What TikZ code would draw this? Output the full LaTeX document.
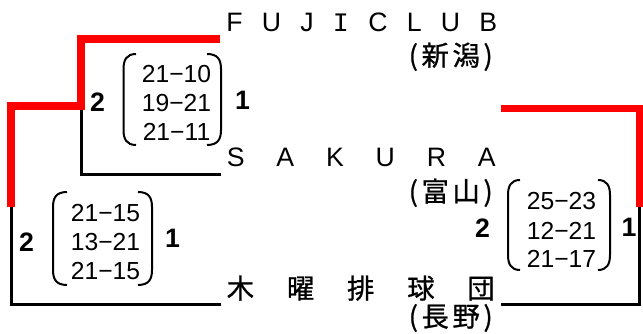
\documentclass[tikz,border=0pt]{standalone}
\usepackage{fontspec}
\setmainfont{Liberation Sans}
\newfontfamily\jp[FakeBold=0.9]{Noto Sans CJK JP}
\newfontfamily\monoI{Liberation Mono}
\definecolor{bracketred}{RGB}{255,0,0}
\begin{document}
\begin{tikzpicture}[x=0.75pt,y=-0.75pt,
  redline/.style={draw=bracketred,line width=5.6pt},
  blackline/.style={draw=black,line width=2.25pt},
  paren/.style={draw=black,line width=1.5pt},
  team/.style={inner sep=0pt,font=\fontsize{20}{22}\selectfont},
  kanji/.style={inner sep=0pt,font=\jp\fontsize{20.5}{22}\selectfont},
  score/.style={inner sep=0pt,anchor=base,font=\fontsize{18.5}{20}\selectfont},
  win/.style={inner sep=0pt,anchor=base,font=\bfseries\fontsize{20}{22}\selectfont}]
\useasboundingbox (0,0) rectangle (643,334);

% team names
\node[team,anchor=base west] (fuji) at (226,32)
  {\hbox to 203.25pt{F\hfill U\hfill J\hfill {\monoI I}\hfill C\hfill L\hfill U\hfill B}};
\node[kanji,anchor=base east] (fujipref) at (493,65.5)
  {\hbox to 63pt{(\hfill 新\hfill 潟\hfill )}};
\node[team,anchor=base west] (sakura) at (226.5,167)
  {\hbox to 201.75pt{S\hfill A\hfill K\hfill U\hfill R\hfill A}};
\node[kanji,anchor=base east] (sakurapref) at (493,201.5)
  {\hbox to 63pt{(\hfill 富\hfill 山\hfill )}};
\node[kanji,anchor=base west] (mokuyo) at (226.5,298.5)
  {\hbox to 201pt{木\hfill 曜\hfill 排\hfill 球\hfill 団}};
\node[kanji,anchor=base east] (mokuyopref) at (493,326.5)
  {\hbox to 63pt{(\hfill 長\hfill 野\hfill )}};

% bracket coordinates
\coordinate (fujiend) at (220,39);
\coordinate (a1) at (81,39);
\coordinate (a2) at (81,106);
\coordinate (sakuraend) at (221,174.5);
\coordinate (a3) at (81,174.5);
\coordinate (b1) at (11,106);
\coordinate (b2) at (11,207);
\coordinate (b3) at (11,305);
\coordinate (mokuyoend) at (221,305);
\coordinate (c0) at (501,108.5);
\coordinate (c1) at (639.5,108.5);
\coordinate (c2) at (639.5,207);
\coordinate (c3) at (639,305);
\coordinate (mokuyoendr) at (501,305);

% black lines
\draw[blackline] (a2) -- (a3) -- (sakuraend);
\draw[blackline] (b2) -- (b3) -- (mokuyoend);
\draw[blackline] (639,207) -- (c3) -- (mokuyoendr);
% red lines
\draw[redline] (fujiend) -- (a1) -- (a2) -- (b1) -- (b2);
\draw[redline] (c0) -- (c1) -- (c2);

% match A
\node[win] (aw) at (97.5,112) {2};
\node[win] (al) at (242.5,110) {1};
\node[score] (as1) at (176.5,83) {21−10};
\node[score] (as2) at (176.5,112) {19−21};
\node[score] (as3) at (176.5,141) {21−11};
\draw[paren] (136,54) .. controls (126.5,54) and (123.5,60) .. (123.5,69) -- (123.5,130) .. controls (123.5,139) and (126.5,145) .. (136,145);
\draw[paren] (207,54) .. controls (218,54) and (221,60) .. (221,69) -- (221,130) .. controls (221,139) and (218,145) .. (207,145);

% match B
\node[win] (bw) at (26.5,252) {2};
\node[win] (bl) at (172.5,248) {1};
\node[score] (bs1) at (105.5,222) {21−15};
\node[score] (bs2) at (105.5,251) {13−21};
\node[score] (bs3) at (105.5,280) {21−15};
\draw[paren] (67,192) .. controls (56,192) and (53,198) .. (53,207) -- (53,270) .. controls (53,279) and (56,285) .. (67,285);
\draw[paren] (138,192) .. controls (149,192) and (152,198) .. (152,207) -- (152,270) .. controls (152,279) and (149,285) .. (138,285);

% match C
\node[win] (cw) at (482.5,238) {2};
\node[win] (cl) at (629,237) {1};
\node[score] (cs1) at (561.5,210) {25−23};
\node[score] (cs2) at (561.5,240) {12−21};
\node[score] (cs3) at (561.5,268) {21−17};
\draw[paren] (520,180) .. controls (511,180) and (508,186) .. (508,195) -- (508,255) .. controls (508,264) and (511,270) .. (520,270);
\draw[paren] (598,180) .. controls (607,180) and (610,186) .. (610,195) -- (610,255) .. controls (610,264) and (607,270) .. (598,270);
\end{tikzpicture}
\end{document}
